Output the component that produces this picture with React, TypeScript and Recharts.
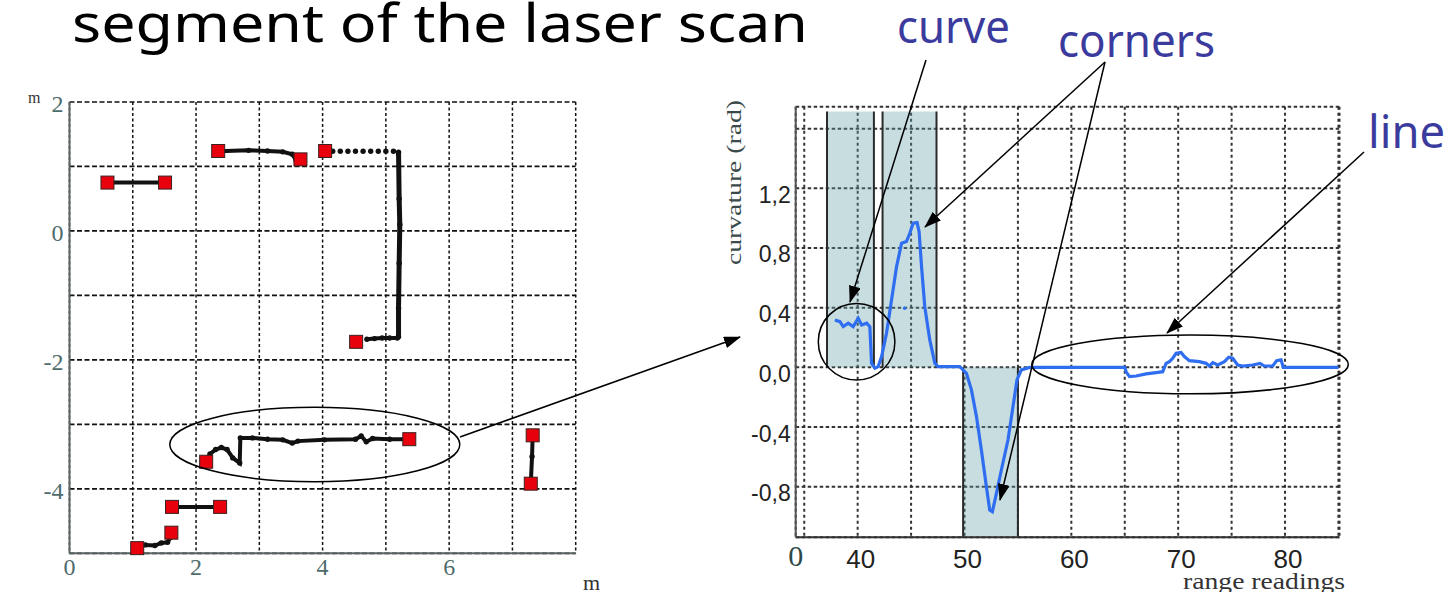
import React from 'react';
import {
  ScatterChart, Scatter, XAxis, YAxis, CartesianGrid,
  ComposedChart, Line, ReferenceArea, ReferenceLine, ReferenceDot,
} from 'recharts';

// ---------- Left chart: laser scan segments (metres) ----------
const segA = [{ x: 0.6, y: 0.75 }, { x: 1.51, y: 0.75 }];
const segB = [
  { x: 2.35, y: 1.237 }, { x: 2.83, y: 1.25 }, { x: 3.13, y: 1.24 },
  { x: 3.37, y: 1.227 }, { x: 3.52, y: 1.19 }, { x: 3.58, y: 1.1 }, { x: 3.65, y: 1.11 },
];
const segCtop = [
  { x: 4.16, y: 1.237 }, { x: 4.28, y: 1.237 }, { x: 4.4, y: 1.237 }, { x: 4.52, y: 1.237 },
  { x: 4.64, y: 1.237 }, { x: 4.76, y: 1.237 }, { x: 4.88, y: 1.237 }, { x: 5.0, y: 1.237 },
  { x: 5.12, y: 1.237 },
];
const segCvert = [
  { x: 5.2, y: 1.22 }, { x: 5.21, y: 0.5 }, { x: 5.22, y: 0.1 }, { x: 5.21, y: -0.5 },
  { x: 5.2, y: -1.2 }, { x: 5.2, y: -1.64 },
];
const segCbottom = [
  { x: 5.18, y: -1.66 }, { x: 5.06, y: -1.66 }, { x: 4.94, y: -1.66 },
  { x: 4.82, y: -1.67 }, { x: 4.7, y: -1.68 },
];
const segD = [
  { x: 2.16, y: -3.58 }, { x: 2.22, y: -3.46 }, { x: 2.31, y: -3.39 }, { x: 2.4, y: -3.36 },
  { x: 2.49, y: -3.39 }, { x: 2.58, y: -3.52 }, { x: 2.69, y: -3.6 }, { x: 2.7, y: -3.21 },
  { x: 2.89, y: -3.21 }, { x: 3.13, y: -3.23 }, { x: 3.37, y: -3.24 }, { x: 3.52, y: -3.29 },
  { x: 3.61, y: -3.26 }, { x: 4.03, y: -3.24 }, { x: 4.52, y: -3.23 }, { x: 4.61, y: -3.18 },
  { x: 4.69, y: -3.27 }, { x: 4.79, y: -3.22 }, { x: 5.06, y: -3.23 }, { x: 5.37, y: -3.23 },
];
const segE = [{ x: 7.32, y: -3.17 }, { x: 7.31, y: -3.5 }, { x: 7.29, y: -3.92 }];
const segF = [{ x: 1.62, y: -4.28 }, { x: 2.38, y: -4.28 }];
const segG = [
  { x: 1.07, y: -4.9 }, { x: 1.2, y: -4.87 }, { x: 1.35, y: -4.88 }, { x: 1.45, y: -4.84 },
  { x: 1.55, y: -4.83 }, { x: 1.6, y: -4.75 }, { x: 1.61, y: -4.68 },
];
const endpoints = [
  { x: 0.6, y: 0.75 }, { x: 1.51, y: 0.75 },
  { x: 2.35, y: 1.24 }, { x: 3.65, y: 1.11 },
  { x: 4.04, y: 1.24 }, { x: 4.53, y: -1.72 },
  { x: 2.16, y: -3.58 }, { x: 5.37, y: -3.23 },
  { x: 7.32, y: -3.17 }, { x: 7.29, y: -3.92 },
  { x: 1.62, y: -4.28 }, { x: 2.38, y: -4.28 },
  { x: 1.07, y: -4.92 }, { x: 1.61, y: -4.68 },
];
const leftXTicks = [0, 1, 2, 3, 4, 5, 6, 7, 8];
const leftYTicks = [-5, -4, -3, -2, -1, 0, 1, 2];
const leftXLabels = [0, 2, 4, 6];
const leftYLabels = [2, 0, -2, -4];

// ---------- Right chart: curvature vs range readings ----------
const curvature = [
  { x: 37.87, y: 0.318 }, { x: 38.34, y: 0.306 }, { x: 38.65, y: 0.273 }, { x: 39.12, y: 0.296 },
  { x: 39.58, y: 0.273 }, { x: 40.05, y: 0.329 }, { x: 40.37, y: 0.284 }, { x: 40.84, y: 0.296 },
  { x: 41.14, y: 0.273 }, { x: 41.3, y: 0.027 }, { x: 41.61, y: -0.006 }, { x: 41.92, y: 0.005 },
  { x: 42.24, y: 0.072 }, { x: 42.7, y: 0.228 }, { x: 43.17, y: 0.452 }, { x: 43.64, y: 0.675 },
  { x: 44.11, y: 0.832 }, { x: 44.57, y: 0.843 }, { x: 44.88, y: 0.899 }, { x: 45.19, y: 0.966 },
  { x: 45.56, y: 0.97 }, { x: 45.75, y: 0.91 }, { x: 45.98, y: 0.675 }, { x: 46.28, y: 0.407 },
  { x: 46.75, y: 0.184 }, { x: 47.22, y: 0.028 }, { x: 47.53, y: 0.005 }, { x: 49.56, y: 0.005 },
  { x: 49.71, y: -0.006 }, { x: 50.18, y: -0.04 }, { x: 50.65, y: -0.151 }, { x: 51.12, y: -0.33 },
  { x: 51.58, y: -0.554 }, { x: 52.05, y: -0.8 }, { x: 52.36, y: -0.956 }, { x: 52.61, y: -0.967 },
  { x: 52.92, y: -0.867 }, { x: 53.45, y: -0.688 }, { x: 54.07, y: -0.487 }, { x: 54.54, y: -0.263 },
  { x: 54.91, y: -0.084 }, { x: 55.32, y: -0.017 }, { x: 56.1, y: 0.0 }, { x: 65.0, y: 0.0 },
  { x: 65.13, y: -0.03 }, { x: 65.44, y: -0.062 }, { x: 66.07, y: -0.058 }, { x: 67.0, y: -0.044 },
  { x: 67.94, y: -0.035 }, { x: 68.55, y: -0.029 }, { x: 68.87, y: 0.027 }, { x: 69.18, y: 0.038 },
  { x: 69.49, y: 0.061 }, { x: 69.81, y: 0.094 }, { x: 70.27, y: 0.099 }, { x: 70.58, y: 0.072 },
  { x: 71.05, y: 0.045 }, { x: 71.99, y: 0.038 }, { x: 72.61, y: 0.027 }, { x: 72.92, y: 0.009 },
  { x: 73.24, y: 0.032 }, { x: 73.7, y: 0.016 }, { x: 74.33, y: 0.038 }, { x: 74.73, y: 0.068 },
  { x: 75.1, y: 0.061 }, { x: 75.57, y: 0.016 }, { x: 76.04, y: 0.009 }, { x: 76.97, y: 0.016 },
  { x: 77.66, y: 0.027 }, { x: 78.07, y: 0.009 }, { x: 78.85, y: 0.009 }, { x: 79.22, y: 0.045 },
  { x: 79.63, y: 0.05 }, { x: 79.84, y: 0.0 }, { x: 85.0, y: 0.0 },
];
const strayPoint = { x: 44.4, y: 0.396 };
const regions = [
  { x1: 37.13, x2: 41.52, y1: 0, y2: 1.714 },
  { x1: 42.33, x2: 47.38, y1: 0, y2: 1.714 },
  { x1: 49.87, x2: 55.0, y1: -1.139, y2: 0 },
];
const rightXTicks = [34.2, 35, 40, 45, 50, 55, 60, 65, 70, 75, 80, 85];
const rightXLabels = [40, 50, 60, 70, 80];
const rightYTicks = [-0.8, -0.4, 0, 0.4, 0.8, 1.2, 1.6];
const rightYLabels = [-0.8, -0.4, 0, 0.4, 0.8, 1.2];

const dotShape = (p: any) => <circle cx={p.cx} cy={p.cy} r={2.7} fill="#111" />;
const squareShape = (p: any) => (
  <rect x={p.cx - 6.5} y={p.cy - 6.5} width={13} height={13} fill="#e8000d" stroke="#3a2020" strokeWidth={1} />
);
const segLine = { stroke: '#111', strokeWidth: 4 };

const LeftXTick = (p: any) => {
  const v = p.payload.value;
  if (!leftXLabels.includes(v)) return null;
  return (
    <text x={p.x} y={p.y + 22} textAnchor="middle" fontFamily="Liberation Serif" fontSize={24} fill="#4e6c6c">{v}</text>
  );
};
const LeftYTick = (p: any) => {
  const v = p.payload.value;
  if (!leftYLabels.includes(v)) return null;
  return (
    <text x={p.x - 6} y={p.y + 10} textAnchor="end" fontFamily="Liberation Serif" fontSize={24} fill="#4e6c6c">{String(v)}</text>
  );
};
const RightXTick = (p: any) => {
  const v = p.payload.value;
  if (v === 34.2) {
    return <text x={p.x} y={p.y + 29} textAnchor="middle" fontFamily="Liberation Serif" fontSize={30} fill="#2e4a48">0</text>;
  }
  if (!rightXLabels.includes(v)) return null;
  return (
    <text x={p.x + 3} y={p.y + 31} textAnchor="middle" fontFamily="Liberation Sans" fontSize={26} fill="#222">{v}</text>
  );
};
const RightYTick = (p: any) => {
  const v = p.payload.value;
  if (!rightYLabels.includes(v)) return null;
  return (
    <text x={p.x - 5} y={p.y + 14.5} textAnchor="end" fontFamily="Liberation Sans" fontSize={23} fill="#222">{v.toFixed(1).replace('.', ',')}</text>
  );
};

const Overlay = () => (
  <svg width={1452} height={592} style={{ position: 'absolute', left: 0, top: 0, pointerEvents: 'none' }}>
    <defs>
      <marker id="ah" markerWidth={18} markerHeight={12} refX={16} refY={6} orient="auto" markerUnits="userSpaceOnUse">
        <path d="M0,0 L17,6 L0,12 Z" fill="#000" />
      </marker>
    </defs>
    <text x={72} y={42} fontFamily="Noto Sans" fontSize={52} fill="#000" textLength={736} lengthAdjust="spacingAndGlyphs">segment of the laser scan</text>
    <text x={897} y={43} fontFamily="Noto Sans" fontSize={45} fill="#3b3b9e" textLength={113} lengthAdjust="spacingAndGlyphs">curve</text>
    <text x={1058} y={57} fontFamily="Noto Sans" fontSize={45} fill="#3b3b9e" textLength={157} lengthAdjust="spacingAndGlyphs">corners</text>
    <text x={1368} y={148} fontFamily="Noto Sans" fontSize={45} fill="#3b3b9e" textLength={77} lengthAdjust="spacingAndGlyphs">line</text>
    <text x={28} y={103} fontFamily="Liberation Serif" fontSize={16} fill="#333">m</text>
    <text x={583} y={590} fontFamily="Liberation Serif" fontSize={22} fill="#333">m</text>
    <text x={1183} y={589} fontFamily="Liberation Serif" fontSize={24} fill="#333" textLength={162} lengthAdjust="spacingAndGlyphs">range readings</text>
    <text transform="translate(741,182.5) rotate(-90)" textAnchor="middle" fontFamily="Liberation Serif" fontSize={22} fill="#3a4a4a" textLength={165} lengthAdjust="spacingAndGlyphs">curvature (rad)</text>
    <ellipse cx={314.8} cy={444.5} rx={145} ry={37.2} fill="none" stroke="#000" strokeWidth={1.5} />
    <ellipse cx={856.6} cy={341.7} rx={38.3} ry={38.3} fill="none" stroke="#000" strokeWidth={1.5} />
    <ellipse cx={1190} cy={364.4} rx={158.3} ry={29.4} fill="none" stroke="#000" strokeWidth={1.5} />
    <line x1={460} y1={437} x2={740} y2={337} stroke="#000" strokeWidth={1.5} markerEnd="url(#ah)" />
    <line x1={926} y1={60} x2={850} y2={302} stroke="#000" strokeWidth={1.5} markerEnd="url(#ah)" />
    <line x1={1105} y1={62} x2={925} y2={227} stroke="#000" strokeWidth={1.5} markerEnd="url(#ah)" />
    <line x1={1105} y1={62} x2={1000} y2={500} stroke="#000" strokeWidth={1.5} markerEnd="url(#ah)" />
    <line x1={1364} y1={152} x2={1167} y2={333} stroke="#000" strokeWidth={1.5} markerEnd="url(#ah)" />
  </svg>
);

export default function App() {
  return (
    <div style={{ position: 'absolute', left: 0, top: 0, width: 1452, height: 592, background: '#fff', overflow: 'hidden' }}>
      <div style={{ position: 'absolute', left: 0, top: 0 }}>
        <ScatterChart width={600} height={592} margin={{ top: 102, right: 24.3, bottom: 8.7, left: 9.5 }}>
          <CartesianGrid horizontal={true} vertical={false} stroke="#111" strokeWidth={1.7} strokeDasharray="5 2.5" />
          <CartesianGrid horizontal={false} vertical={true} stroke="#111" strokeWidth={1.5} strokeDasharray="3 2.5" />
          <XAxis type="number" dataKey="x" domain={[0, 8]} ticks={leftXTicks} interval={0} height={30}
            tickSize={0} tickMargin={0} tickLine={false} axisLine={{ stroke: '#5a6464', strokeWidth: 2 }} tick={<LeftXTick />} />
          <YAxis type="number" dataKey="y" domain={[-5, 2]} ticks={leftYTicks} interval={0} width={60}
            tickSize={0} tickMargin={0} tickLine={false} axisLine={{ stroke: '#5a6464', strokeWidth: 2 }} tick={<LeftYTick />} />
          <Scatter data={segA} line={segLine} shape={dotShape} isAnimationActive={false} />
          <Scatter data={segB} line={segLine} shape={dotShape} isAnimationActive={false} />
          <Scatter data={segCtop} shape={dotShape} isAnimationActive={false} />
          <Scatter data={segCvert} line={{ stroke: '#111', strokeWidth: 5 }} shape={dotShape} isAnimationActive={false} />
          <Scatter data={segCbottom} line={segLine} shape={dotShape} isAnimationActive={false} />
          <Scatter data={segD} line={segLine} shape={dotShape} isAnimationActive={false} />
          <Scatter data={segE} line={segLine} shape={dotShape} isAnimationActive={false} />
          <Scatter data={segF} line={segLine} shape={dotShape} isAnimationActive={false} />
          <Scatter data={segG} line={segLine} shape={dotShape} isAnimationActive={false} />
          <Scatter data={endpoints} shape={squareShape} isAnimationActive={false} />
        </ScatterChart>
      </div>
      <div style={{ position: 'absolute', left: 700, top: 80 }}>
        <ComposedChart width={752} height={512} data={curvature} margin={{ top: 26.7, right: 112.5, bottom: 14.7, left: 35.7 }}>
          {regions.map((r, i) => (
            <ReferenceArea key={'a' + i} x1={r.x1} x2={r.x2} y1={r.y1} y2={r.y2} fill="#629ea6" fillOpacity={0.35} stroke="none" ifOverflow="visible" />
          ))}
          <CartesianGrid horizontal={true} vertical={false} stroke="#333" strokeWidth={2} strokeDasharray="3.5 2.5" />
          <CartesianGrid horizontal={false} vertical={true} stroke="#333" strokeWidth={2} strokeDasharray="3 3" />
          {regions.map((r, i) => (
            <ReferenceLine key={'l' + i} segment={[{ x: r.x1, y: r.y1 }, { x: r.x1, y: r.y2 }]} stroke="#2a2a2a" strokeWidth={2} ifOverflow="visible" />
          ))}
          {regions.map((r, i) => (
            <ReferenceLine key={'r' + i} segment={[{ x: r.x2, y: r.y1 }, { x: r.x2, y: r.y2 }]} stroke="#2a2a2a" strokeWidth={2} ifOverflow="visible" />
          ))}
          <XAxis type="number" dataKey="x" domain={[34.2, 85.1]} ticks={rightXTicks} interval={0} height={40}
            tickSize={0} tickMargin={0} tickLine={false} axisLine={{ stroke: '#333', strokeWidth: 2 }} tick={<RightXTick />} />
          <YAxis type="number" dataKey="y" domain={[-1.139, 1.747]} ticks={rightYTicks} interval={0} width={60}
            tickSize={0} tickMargin={0} tickLine={false} axisLine={{ stroke: '#555', strokeWidth: 2 }} tick={<RightYTick />} />
          <Line type="linear" dataKey="y" stroke="#2f6ef0" strokeWidth={3.2} dot={false} isAnimationActive={false} />
          <ReferenceDot x={strayPoint.x} y={strayPoint.y} r={1.8} fill="#2f6ef0" stroke="none" />
        </ComposedChart>
      </div>
      <Overlay />
    </div>
  );
}
